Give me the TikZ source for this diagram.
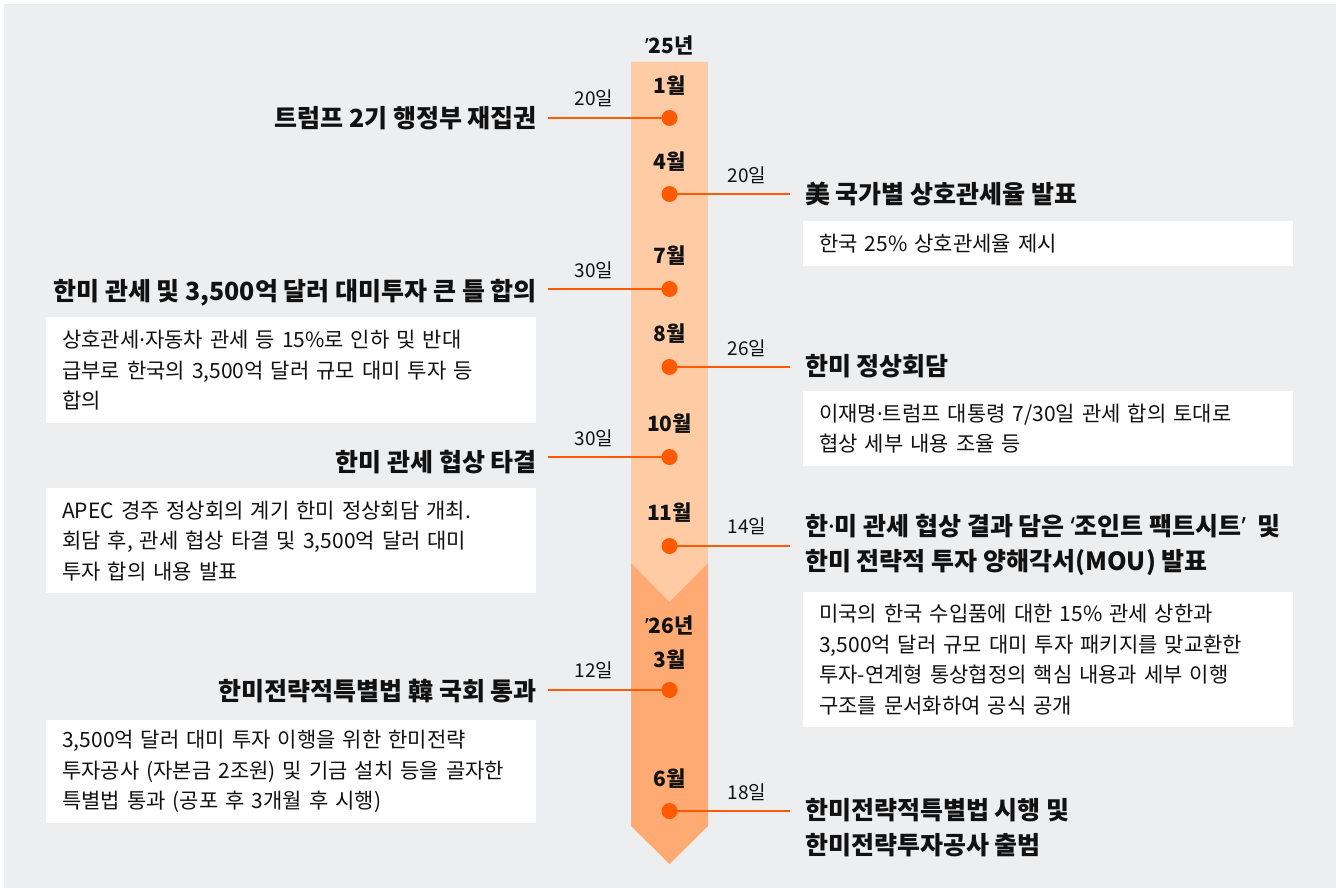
\documentclass[tikz,border=0pt]{standalone}
\usepackage{fontspec}
\setmainfont{Noto Sans CJK KR}
\newfontfamily\latinf{Noto Sans}
\newcommand{\mdotx}{{\latinf ·}}
\newcommand{\lqx}{{\latinf ‘}}
\newcommand{\rqx}{{\latinf ’}}
\definecolor{bgc}{HTML}{EDEEF0}
\definecolor{barlight}{HTML}{FFCBA5}
\definecolor{bardark}{HTML}{FFAA72}
\definecolor{dotc}{HTML}{FF5A00}
\definecolor{txt}{HTML}{111111}
\tikzset{
  dotn/.style={circle,fill=dotc,inner sep=0pt,minimum size=16pt},
  conn/.style={draw=dotc,line width=2.4pt},
  month/.style={font=\fontsize{21}{25}\selectfont\bfseries,text=txt,inner sep=0pt},
  dayl/.style={font=\fontsize{19}{22}\selectfont,text=txt,inner sep=0pt},
  ltitle/.style={font=\fontsize{25}{35}\selectfont\bfseries,text=txt,inner sep=0pt,anchor=east,align=right},
  rtitle/.style={font=\fontsize{25}{35}\selectfont\bfseries,text=txt,inner sep=0pt,anchor=west,align=left},
  infobox/.style={fill=white,anchor=north west,minimum width=490pt,text width=458pt,inner xsep=16pt,inner ysep=0pt,align=left,font=\fontsize{21}{30.5}\selectfont,text=txt},
}
\begin{document}
\begin{tikzpicture}[x=1pt,y=-1pt]
\useasboundingbox (0,0) rectangle (1336,888);
\fill[white] (0,0) rectangle (1336,888);
\fill[bgc] (4,4) rectangle (1336,888);
% bar
\fill[barlight] (631,62) -- (708,62) -- (708,563) -- (669.5,602) -- (631,563) -- cycle;
\fill[bardark] (631,563) -- (669.5,602) -- (708,563) -- (708,826) -- (669.5,864) -- (631,826) -- cycle;
% years
\node[month] (y25) at (669.5,45) {\rqx25년};
\node[month] (y26) at (669.5,625) {\rqx26년};
% months
\node[month] (m1) at (669.5,86) {1월};
\node[month] (m4) at (669.5,162) {4월};
\node[month] (m7) at (669.5,256) {7월};
\node[month] (m8) at (669.5,334) {8월};
\node[month] (m10) at (669.5,424) {10월};
\node[month] (m11) at (669.5,513) {11월};
\node[month] (m3) at (669.5,660) {3월};
\node[month] (m6) at (669.5,779) {6월};
% coordinates for connector ends
\coordinate (e1) at (548,118);
\coordinate (e4) at (790,194);
\coordinate (e7) at (548,289);
\coordinate (e8) at (790,367);
\coordinate (e10) at (548,457);
\coordinate (e11) at (790,546);
\coordinate (e3) at (548,690);
\coordinate (e6) at (790,811);
% dots
\node[dotn] (d1) at (669.5,118) {};
\node[dotn] (d4) at (669.5,194) {};
\node[dotn] (d7) at (669.5,289) {};
\node[dotn] (d8) at (669.5,367) {};
\node[dotn] (d10) at (669.5,457) {};
\node[dotn] (d11) at (669.5,546) {};
\node[dotn] (d3) at (669.5,690) {};
\node[dotn] (d6) at (669.5,811) {};
\foreach \k in {1,4,7,8,10,11,3,6}{\draw[conn] (d\k.center) -- (e\k);}
% day labels
\node[dayl] (t1) at (594,98) {20일};
\node[dayl] (t4) at (747,175) {20일};
\node[dayl] (t7) at (594,270) {30일};
\node[dayl] (t8) at (747,348) {26일};
\node[dayl] (t10) at (594,438) {30일};
\node[dayl] (t11) at (747,526) {14일};
\node[dayl] (t3) at (594,670) {12일};
\node[dayl] (t6) at (747,792) {18일};
% titles left
\node[ltitle] (h1) at (537,118) {트럼프 2기 행정부 재집권};
\node[ltitle] (h7) at (537,293) {한미 관세 및 3,500억 달러 대미투자 큰 틀 합의};
\node[ltitle] (h10) at (537,462) {한미 관세 협상 타결};
\node[ltitle] (h3) at (537,691) {한미전략적특별법 韓 국회 통과};
% titles right
\node[rtitle] (h4) at (805,194) {美 국가별 상호관세율 발표};
\node[rtitle] (h8) at (805,366) {한미 정상회담};
\node[rtitle] (h11) at (805,545) {한\mdotx 미 관세 협상 결과 담은 \lqx 조인트 팩트시트\rqx\ \ 및\\한미 전략적 투자 양해각서(MOU) 발표};
\node[rtitle] (h6) at (805,828) {한미전략적특별법 시행 및\\한미전략투자공사 출범};
% boxes left
\node[infobox,minimum height=106pt] (b7) at (46,317) {상호관세\mdotx 자동차 관세 등 15\%로 인하 및 반대\\급부로 한국의 3,500억 달러 규모 대미 투자 등\\합의};
\node[infobox,minimum height=105pt] (b10) at (46,488) {APEC 경주 정상회의 계기 한미 정상회담 개최.\\회담 후, 관세 협상 타결 및 3,500억 달러 대미\\투자 합의 내용 발표};
\node[infobox,minimum height=103pt] (b3) at (46,720) {3,500억 달러 대미 투자 이행을 위한 한미전략\\투자공사 (자본금 2조원) 및 기금 설치 등을 골자한\\특별법 통과 (공포 후 3개월 후 시행)};
% boxes right
\node[infobox,minimum height=45pt] (b4) at (803,221) {한국 25\% 상호관세율 제시};
\node[infobox,minimum height=75pt] (b8) at (803,391) {이재명\mdotx 트럼프 대통령 7/30일 관세 합의 토대로\\협상 세부 내용 조율 등};
\node[infobox,minimum height=135pt] (b11) at (803,592) {미국의 한국 수입품에 대한 15\% 관세 상한과\\3,500억 달러 규모 대미 투자 패키지를 맞교환한\\투자-연계형 통상협정의 핵심 내용과 세부 이행\\구조를 문서화하여 공식 공개};
\end{tikzpicture}
\end{document}
